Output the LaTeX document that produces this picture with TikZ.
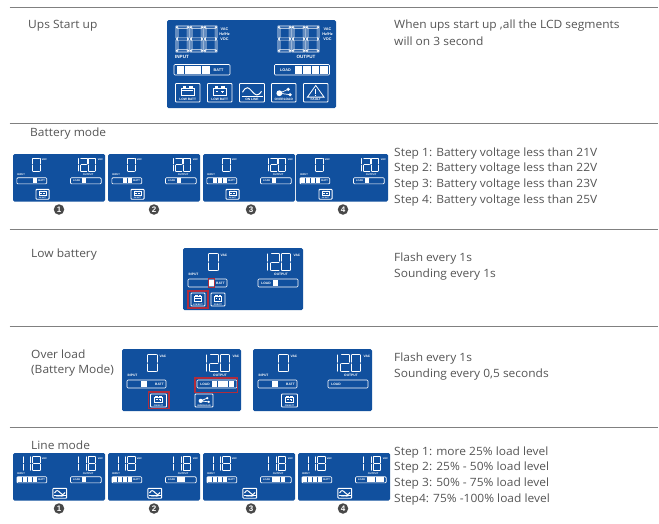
\documentclass[tikz,border=0pt]{standalone}
\usepackage{fontspec}
\setmainfont[FakeStretch=1.05]{Open Sans}
\newfontfamily\lcdfont{Liberation Sans}
\definecolor{lcdblue}{HTML}{11509E}
\definecolor{txtgray}{HTML}{555555}
\definecolor{rulegray}{HTML}{808080}
\definecolor{redbox}{HTML}{B02C3C}
\tikzset{
  lbl/.style={anchor=west,inner sep=0pt,yshift=-1.5pt,text=txtgray,font=\fontsize{11.4}{13}\selectfont},
  sep/.style={draw=rulegray,line width=0.9pt},
  panelbg/.style={fill=lcdblue,rounded corners=1.5pt,draw=none},
  dseg/.style={draw=white,line width=0.6pt,fill=lcdblue},
  dthin/.style={draw=white,line width=0.8pt,line cap=round},
  tiny/.style={inner sep=0pt,text=white,font=\lcdfont\bfseries\fontsize{3.3}{3.6}\selectfont},
  tinyb/.style={tiny,font=\lcdfont\bfseries\fontsize{3.8}{4}\selectfont},
  tinyc/.style={tiny,font=\lcdfont\bfseries\fontsize{4.6}{5}\selectfont},
  barframe/.style={draw=white,line width=0.6pt,rounded corners=1pt},
  barseg/.style={fill=white,draw=none},
  iconbox/.style={draw=white,line width=0.95pt,rounded corners=0.8pt},
  iconline/.style={draw=white,line width=0.7pt},
  redmark/.style={draw=redbox,line width=1.1pt},
  numdot/.style={circle,fill=txtgray!85!black,text=white,inner sep=0pt,minimum size=10.5pt,font=\lcdfont\bfseries\fontsize{8}{8}\selectfont}
}
% seven segments in a 10 x 20 box: thin strokes in the small panels, hollow bars on the start-up panel
\newif\ifthinseg \thinsegtrue
\newcommand\sgA{\ifthinseg\draw[dthin] (1,0.4)--(9,0.4);\else\draw[dseg] (0.4,0)--(9.6,0)--(8.2,1.7)--(1.8,1.7)--cycle;\fi}
\newcommand\sgD{\ifthinseg\draw[dthin] (1,19.6)--(9,19.6);\else\draw[dseg] (0.4,20)--(9.6,20)--(8.2,18.3)--(1.8,18.3)--cycle;\fi}
\newcommand\sgG{\ifthinseg\draw[dthin] (1.2,10)--(8.8,10);\else\draw[dseg] (1.5,9.1)--(8.5,9.1)--(9.3,10)--(8.5,10.9)--(1.5,10.9)--(0.7,10)--cycle;\fi}
\newcommand\sgF{\ifthinseg\draw[dthin] (0.4,1)--(0.4,9);\else\draw[dseg] (0,0.4)--(1.5,2)--(1.5,8.8)--(0.5,9.6)--(0,9.2)--cycle;\fi}
\newcommand\sgE{\ifthinseg\draw[dthin] (0.4,11)--(0.4,19);\else\draw[dseg] (0,19.6)--(1.5,18)--(1.5,11.2)--(0.5,10.4)--(0,10.8)--cycle;\fi}
\newcommand\sgB{\ifthinseg\draw[dthin] (9.6,1)--(9.6,9);\else\draw[dseg] (10,0.4)--(8.5,2)--(8.5,8.8)--(9.5,9.6)--(10,9.2)--cycle;\fi}
\newcommand\sgC{\ifthinseg\draw[dthin] (9.6,11)--(9.6,19);\else\draw[dseg] (10,19.6)--(8.5,18)--(8.5,11.2)--(9.5,10.4)--(10,10.8)--cycle;\fi}
\newcommand\digeight[4]{\begin{scope}[shift={(#1,#2)},xscale=#3/10,yscale=#4/20]\sgA\sgB\sgC\sgD\sgE\sgF\sgG\end{scope}}
\newcommand\digzero[4]{\begin{scope}[shift={(#1,#2)},xscale=#3/10,yscale=#4/20]\sgA\sgB\sgC\sgD\sgE\sgF\end{scope}}
\newcommand\digone[4]{\begin{scope}[shift={(#1,#2)},xscale=#3/10,yscale=#4/20]\sgB\sgC\end{scope}}
\newcommand\digtwo[4]{\begin{scope}[shift={(#1,#2)},xscale=#3/10,yscale=#4/20]\sgA\sgB\sgD\sgE\sgG\end{scope}}
% panel: x y scale name width body
\newcommand\lcdpanel[6]{%
  \begin{scope}[shift={(#1,#2)},scale=#3,name prefix=#4-,every node/.append style={transform shape}]
    \path[panelbg] (0,0) rectangle (#5,62);
    #6
  \end{scope}}
\newcommand\dispzeroB{\digzero{25}{5}{10.5}{18}}
\newcommand\dispout{\digone{76}{5}{9}{18}\digtwo{87.5}{5}{9.5}{18}\digzero{98}{5}{9.5}{18}}
\newcommand\dispin{\digone{5}{4}{9}{19.5}\digone{14.5}{4}{9}{19.5}\digeight{25.5}{4}{10.5}{19.5}}
\newcommand\dispoutl{\digone{77}{4}{9}{19.5}\digone{87}{4}{9}{19.5}\digeight{97.5}{4}{10.5}{19.5}}
\newcommand\labels{%
  \node[tiny] (vac1) at (41,7) {VAC};
  \node[tiny] (vac2) at (114,7) {VAC};
  \node[tiny] (inp) at (10.5,26.5) {INPUT};
  \node[tiny] (outp) at (98,26.5) {OUTPUT};
  \draw[barframe] (5,31) rectangle (44,39);
  \draw[barframe] (75,31) rectangle (115,39);
  \node[tiny] (batt) at (37.5,35) {BATT};
  \node[tiny] (load) at (83,35) {LOAD};}
\newcommand\bseg[1]{\fill[barseg] ({25.6-#1*6.6},31.6) rectangle ++(5.6,6.8);}
\newcommand\lseg[1]{\fill[barseg] ({84.5+#1*5.6},31.6) rectangle ++(5,6.8);}
% icon: name x y w h kind label
\newcommand\lcdicon[7]{%
  \begin{scope}[shift={(#2,#3)},xscale=#4/25,yscale=#5/19]
    \draw[iconbox] (0,0) rectangle (25,19);
    #6
    \node[tiny] (#1) at (12.5,16.6) {#7};
  \end{scope}}
\newcommand\kbatt{\draw[iconline] (6,4.5) rectangle (19,12.5);
   \draw[iconline,fill=white] (8,3.2) rectangle (10.5,4.5) (14.5,3.2) rectangle (17,4.5);
   \draw[iconline] (7,7.5)--(18,7.5);}
\newcommand\kbattb{\draw[iconline] (6,4.5) rectangle (19,12.5);
   \draw[iconline,fill=white] (8,3.2) rectangle (10.5,4.5) (14.5,3.2) rectangle (17,4.5);
   \draw[iconline] (8.5,8.5)--(11,8.5) (14,8.5)--(16.5,8.5) (15.25,7.2)--(15.25,9.8);}
\newcommand\kline{\draw[iconline,line width=1pt] (3,9) .. controls (7,2) and (9,4) .. (12.5,8) .. controls (16,12) and (18,14) .. (22,8);
   \draw[iconline] (2,13.5)--(23,13.5);}
\newcommand\kover{\fill[white] (8,10) circle (3) (17,6) circle (1.8) (19,11.5) circle (1.8);
   \draw[iconline] (8,10)--(17,6) (8,10)--(19,11.5);}
\newcommand\kfault{\draw[iconline,line width=0.8pt] (12.5,2)--(21,14)--(4,14)--cycle;
   \draw[iconline,line width=0.8pt] (12.5,6)--(12.5,10.5) (12.5,11.5)--(12.5,12.6);}
\begin{document}
\begin{tikzpicture}[x=1pt,y=-1pt]
\useasboundingbox (0,0) rectangle (659,523);
\fill[white] (0,0) rectangle (659,523);
% separators
\draw[sep] (9.5,7.5)--(658,7.5);
\draw[sep] (9.5,123)--(658,123);
\draw[sep] (9.5,229)--(658,229);
\draw[sep] (9.5,326.5)--(658,326.5);
\draw[sep] (9.5,427)--(658,427);
% left headings
\node[lbl] (h1) at (28,24) {Ups Start up};
\node[lbl] (h2) at (30,132) {Battery mode};
\node[lbl] (h3) at (31,253) {Low battery};
\node[lbl] (h4a) at (31,353) {Over load};
\node[lbl] (h4b) at (31,369) {(Battery Mode)};
\node[lbl] (h5) at (31,444) {Line mode};
% right descriptions
\node[lbl] (r1a) at (394,24) {When ups start up ,all the LCD segments};
\node[lbl] (r1b) at (394,40) {will on 3 second};
\node[lbl] (r2a) at (394,152) {Step 1: Battery voltage less than 21V};
\node[lbl] (r2b) at (394,167.5) {Step 2: Battery voltage less than 22V};
\node[lbl] (r2c) at (394,183.5) {Step 3: Battery voltage less than 23V};
\node[lbl] (r2d) at (394,199) {Step 4: Battery voltage less than 25V};
\node[lbl] (r3a) at (394,257) {Flash every 1s};
\node[lbl] (r3b) at (394,273) {Sounding every 1s};
\node[lbl] (r4a) at (394,357) {Flash every 1s};
\node[lbl] (r4b) at (394,373) {Sounding every 0,5 seconds};
\node[lbl] (r5a) at (394,451) {Step 1: more 25\% load level};
\node[lbl] (r5b) at (394,466) {Step 2: 25\% - 50\% load level};
\node[lbl] (r5c) at (394,482) {Step 3: 50\% - 75\% load level};
\node[lbl] (r5d) at (394,498) {Step4: 75\% -100\% load level};
% start-up panel
\begin{scope}[name prefix=st-,every node/.append style={transform shape}]
  \path[panelbg] (167,20) rectangle (336,108);
  \thinsegfalse
  \digeight{176}{26}{13}{26}\digeight{190}{26}{13}{26}\digeight{204}{26}{13}{26}
  \digeight{278}{26}{13}{26}\digeight{292}{26}{13}{26}\digeight{306}{26}{13}{26}
  \node[tinyb] (v1) at (224.5,29.5) {VAC};
  \node[tinyb] (v2) at (224.5,34.5) {Hz/Hz};
  \node[tinyb] (v3) at (224.5,39) {VDC};
  \node[tinyb] (v4) at (327.5,29.5) {VAC};
  \node[tinyb] (v5) at (327.5,34.5) {Hz/Hz};
  \node[tinyb] (v6) at (327.5,39) {VDC};
  \node[tinyc] (in) at (182,56.5) {INPUT};
  \node[tinyc] (out) at (306,56.5) {OUTPUT};
  \draw[barframe] (174,64.5) rectangle (230,75);
  \draw[barframe] (274.5,64.5) rectangle (329.5,75);
  \foreach \i in {0,1,2,3} {\fill[barseg] ({176.5+\i*8.4},65.5) rectangle ++(7.8,8.5);}
  \foreach \i in {0,1,2,3} {\fill[barseg] ({294.5+\i*8.5},65.5) rectangle ++(7.9,8.5);}
  \node[tinyb] (bt) at (218.5,70) {BATT};
  \node[tinyb] (ld) at (285.5,70) {LOAD};
  \lcdicon{i1}{175.5}{83.5}{24.5}{18.5}{\kbatt}{LOW BATT}
  \lcdicon{i2}{207.5}{83.5}{24.5}{18.5}{\kbattb}{LOW BATT}
  \lcdicon{i3}{239.5}{83.5}{25}{18.5}{\kline}{ON LINE}
  \lcdicon{i4}{271.5}{83.5}{24.5}{18.5}{\kover}{OVERLOAD}
  \lcdicon{i5}{303.5}{83.5}{24.5}{18.5}{\kfault}{FAULT}
\end{scope}
% battery mode
\lcdpanel{13}{154}{0.767}{b1}{120}{\dispzeroB\dispout\labels\bseg{0}\lseg{1}\lcdicon{ic}{30}{46}{17}{13}{\kbattb}{ON BATT}}
\lcdpanel{108}{154}{0.767}{b2}{120}{\dispzeroB\dispout\labels\bseg{0}\bseg{1}\lseg{1}\lcdicon{ic}{30}{46}{17}{13}{\kbattb}{ON BATT}}
\lcdpanel{203}{154}{0.767}{b3}{120}{\dispzeroB\dispout\labels\bseg{0}\bseg{1}\bseg{2}\lseg{1}\lcdicon{ic}{30}{46}{17}{13}{\kbattb}{ON BATT}}
\lcdpanel{296}{154}{0.767}{b4}{120}{\dispzeroB\dispout\labels\bseg{0}\bseg{1}\bseg{2}\bseg{3}\lseg{1}\lcdicon{ic}{30}{46}{17}{13}{\kbattb}{ON BATT}}
\node[numdot] (nb1) at (59,209.5) {1};
\node[numdot] (nb2) at (154,209.5) {2};
\node[numdot] (nb3) at (251,209.5) {3};
\node[numdot] (nb4) at (343,209.5) {4};
% low battery
\lcdpanel{183}{248}{1}{lb}{120}{\dispzeroB\dispout\labels\bseg{0}\lseg{1}
  \draw[redmark] (25.5,30.5) rectangle (31.5,39.5);
  \lcdicon{ic1}{8}{45}{14}{13}{\kbatt}{LOW BATT}
  \lcdicon{ic2}{28}{45}{14}{13}{\kbattb}{ON BATT}
  \draw[redmark] (5,43) rectangle (25,60);}
% over load
\lcdpanel{122}{349}{1}{ol}{119}{\dispzeroB\dispout\labels\bseg{1}\lseg{1}\lseg{2}\lseg{3}\lseg{4}
  \draw[redmark] (73,29) rectangle (115.5,43.5);
  \lcdicon{ic1}{28.5}{45}{16}{13}{\kbattb}{ON BATT}
  \draw[redmark] (26.5,43) rectangle (47,59.5);
  \lcdicon{ic2}{73}{45}{18}{13}{\kover}{OVERLOAD}}
\lcdpanel{253}{349}{1}{om}{119}{\dispzeroB\dispout\labels\bseg{1}
  \lcdicon{ic1}{28.5}{45}{16}{13}{\kbattb}{ON BATT}}
% line mode
\lcdpanel{13}{453}{0.767}{l1}{120}{\dispin\dispoutl\labels\bseg{0}\bseg{1}\bseg{2}\bseg{3}\lseg{1}\lcdicon{ic}{52}{46}{18}{13}{\kline}{ON LINE}}
\lcdpanel{108}{453}{0.767}{l2}{120}{\dispin\dispoutl\labels\bseg{0}\bseg{1}\bseg{2}\bseg{3}\lseg{1}\lseg{2}\lcdicon{ic}{52}{46}{18}{13}{\kline}{ON LINE}}
\lcdpanel{203}{453}{0.767}{l3}{120}{\dispin\dispoutl\labels\bseg{0}\bseg{1}\bseg{2}\bseg{3}\lseg{1}\lseg{2}\lseg{3}\lcdicon{ic}{52}{46}{18}{13}{\kline}{ON LINE}}
\lcdpanel{298}{453}{0.767}{l4}{120}{\dispin\dispoutl\labels\bseg{0}\bseg{1}\bseg{2}\bseg{3}\lseg{1}\lseg{2}\lseg{3}\lseg{4}\lcdicon{ic}{52}{46}{18}{13}{\kline}{ON LINE}}
\node[numdot] (nl1) at (59,508.5) {1};
\node[numdot] (nl2) at (154,508.5) {2};
\node[numdot] (nl3) at (251,508.5) {3};
\node[numdot] (nl4) at (343,508.5) {4};
\end{tikzpicture}
\end{document}
